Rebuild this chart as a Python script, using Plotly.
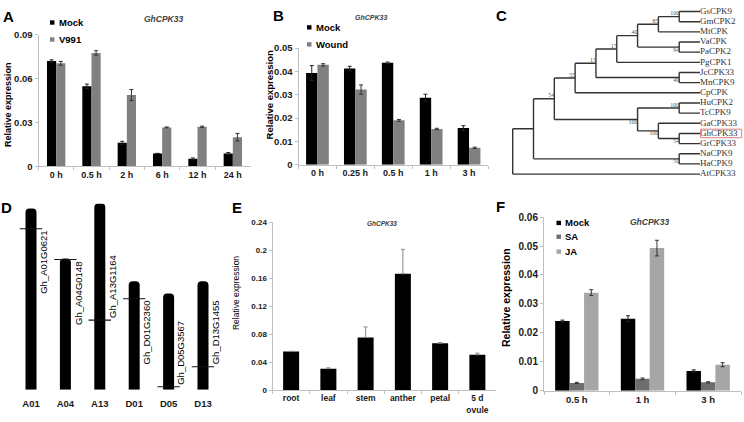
import plotly.graph_objects as go

W, H = 744, 422
def fx(p): return p / W
def fy(p): return 1 - p / H

FONT = "Liberation Sans, Arial, Helvetica, sans-serif"
SERIF = "Liberation Serif, Times New Roman, serif"

# ---------------- data ----------------
# Panel A
a_cats = ["0 h", "0.5 h", "2 h", "6 h", "12 h", "24 h"]
a_mock = [0.072, 0.0547, 0.0161, 0.0088, 0.0051, 0.0088]
a_mock_err = [0.0008, 0.0015, 0.001, 0.0, 0.0006, 0.0006]
a_v991 = [0.0704, 0.0775, 0.0487, 0.0266, 0.027, 0.0199]
a_v991_err = [0.0013, 0.0015, 0.0038, 0.0003, 0.0005, 0.0026]
a_yticks = [0, 0.03, 0.06, 0.09]
a_yticktext = ["0", "0.03", "0.06", "0.09"]

# Panel B
b_cats = ["0 h", "0.25 h", "0.5 h", "1 h", "3 h"]
b_mock = [0.0393, 0.0412, 0.0437, 0.0287, 0.0157]
b_mock_err = [0.0032, 0.001, 0.0003, 0.0015, 0.001]
b_wound = [0.0428, 0.0322, 0.019, 0.0153, 0.0072]
b_wound_err = [0.0005, 0.002, 0.0004, 0.0003, 0.0003]
b_yticks = [0, 0.01, 0.02, 0.03, 0.04, 0.05]
b_yticktext = ["0", "0.01", "0.02", "0.03", "0.04", "0.05"]

# Panel C (topology: [child1, child2, bootstrap])
c_gsgm = ["GsCPK9", "GmCPK2", 100]
c_mt = [c_gsgm, "MtCPK", 85]
c_vapa = ["VaCPK", "PaCPK2", 94]
c_n6 = [c_mt, c_vapa, 40]
c_n5 = [c_n6, "PgCPK1", 17]
c_jcmn = ["JcCPK33", "MnCPK9", 49]
c_n4 = [c_n5, c_jcmn, 13]
c_n3 = [c_n4, "CpCPK", 55]
c_hutc = ["HuCPK2", "TcCPK9", 100]
c_ghgr = ["GhCPK33", "GrCPK33", 54]
c_ga = ["GaCPK33", c_ghgr, 100]
c_n7 = [c_hutc, c_ga, 100]
c_n2 = [c_n3, c_n7, 54]
c_naha = ["NaCPK9", "HaCPK9", 50]
c_n1 = [c_n2, c_naha, None]
tree = [c_n1, "AtCPK33", None]
highlight_leaf = "GhCPK33"

# Panel D
chrom_names = ["A01", "A04", "A13", "D01", "D05", "D13"]
chrom_len = [112, 81, 115, 67, 59.5, 67]
gene_names = ["Gh_A01G0621", "Gh_A04G0148", "Gh_A13G1164",
              "Gh_D01G2360", "Gh_D05G3567", "Gh_D13G1455"]
gene_pos_from_top = [12.6, 0.6, 72, 10.8, 57.6, 52.8]
gene_label_side = ["down", "down", "up", "down", "up", "up"]

# Panel E
e_cats = ["root", "leaf", "stem", "anther", "petal", "5 d<br>ovule"]
e_vals = [0.0553, 0.0308, 0.0755, 0.1665, 0.0672, 0.0508]
e_err = [0.0005, 0.0013, 0.015, 0.035, 0.0012, 0.0022]
e_yticks = [0, 0.04, 0.08, 0.12, 0.16, 0.2, 0.24]
e_yticktext = ["0", "0.04", "0.08", "0.12", "0.16", "0.2", "0.24"]

# Panel F
f_cats = ["0.5 h", "1 h", "3 h"]
f_mock = [0.0241, 0.0249, 0.0068]
f_mock_err = [0.0003, 0.001, 0.0004]
f_sa = [0.0027, 0.0041, 0.0029]
f_sa_err = [0.0002, 0.0003, 0.0002]
f_ja = [0.0339, 0.0493, 0.009]
f_ja_err = [0.001, 0.0027, 0.0007]
f_yticks = [0, 0.01, 0.02, 0.03, 0.04, 0.05, 0.06]
f_yticktext = ["0", "0.01", "0.02", "0.03", "0.04", "0.05", "0.06"]

BLACK = "#000000"
GRAY = "#808080"
DGRAY = "#6e6e6e"
LGRAY = "#a6a6a6"
AXC = "#bfbfbf"

fig = go.Figure()
annotations = []
shapes = []


def add_bars(cats, vals, errs, color, ecolor, w, off, xa, ya, one_sided=False):
    eb = dict(type="data", array=errs, visible=True, thickness=1, width=2, color=ecolor)
    if one_sided:
        eb.update(symmetric=False, arrayminus=[0] * len(errs))
    fig.add_trace(go.Bar(x=cats, y=vals, width=w, offset=off,
                         marker=dict(color=color, line=dict(width=0)),
                         error_y=eb, xaxis=xa, yaxis=ya, showlegend=False,
                         hoverinfo="skip"))


def ann(text, x, y, size, bold=False, italic=False, color="#000000", angle=0,
        xanchor="center", yanchor="middle", family=FONT):
    annotations.append(dict(text=text, x=fx(x), y=fy(y), xref="paper", yref="paper",
                            showarrow=False, textangle=angle, xanchor=xanchor,
                            yanchor=yanchor,
                            font=dict(family=family, size=size, color=color,
                                      weight="bold" if bold else "normal",
                                      style="italic" if italic else "normal")))


def legend_item(label, color, xs, yc, size=9.5):
    s = 4.5
    shapes.append(dict(type="rect", xref="paper", yref="paper",
                       x0=fx(xs), x1=fx(xs + s), y0=fy(yc + s / 2), y1=fy(yc - s / 2),
                       fillcolor=color, line=dict(width=0)))
    ann(label, xs + s + 2, yc, size, bold=True, xanchor="left")


def cat_xaxis(cats, x0, x1, anchor, size):
    return dict(domain=[fx(x0), fx(x1)], type="category", categoryorder="array",
                categoryarray=cats, range=[-0.5, len(cats) - 0.5], showline=True,
                linecolor=AXC, linewidth=1, ticks="outside", tickson="boundaries",
                ticklen=3, tickcolor=AXC, showgrid=False, zeroline=False,
                tickfont=dict(family=FONT, size=size, weight="bold", color="#1a1a1a"),
                anchor=anchor, fixedrange=True)


def val_yaxis(p0, p1, rng, tv, tt, anchor, size):
    return dict(domain=[fy(p0), fy(p1)], range=rng, tickvals=tv, ticktext=tt,
                showline=True, linecolor=AXC, linewidth=1, ticks="outside",
                ticklen=3, tickcolor=AXC, showgrid=False, zeroline=False,
                tickfont=dict(family=FONT, size=size, weight="bold", color="#1a1a1a"),
                anchor=anchor, fixedrange=True)


# ---------------- Panel A ----------------
wA = 0.26
add_bars(a_cats, a_mock, a_mock_err, BLACK, "#222222", wA, -wA, "x", "y")
add_bars(a_cats, a_v991, a_v991_err, GRAY, "#333333", wA, 0, "x", "y")

# ---------------- Panel B ----------------
wB = 0.3
add_bars(b_cats, b_mock, b_mock_err, BLACK, "#222222", wB, -wB, "x2", "y2")
add_bars(b_cats, b_wound, b_wound_err, GRAY, "#333333", wB, 0, "x2", "y2")

# ---------------- Panel C (tree) ----------------
def height(n):
    if isinstance(n, str):
        return 0
    return 1 + max(height(n[0]), height(n[1]))

MAXH = height(tree)
leaves = []
lx, ly = [], []
boot_x, boot_y, boot_t, boot_p = [], [], [], []


def place(n):
    if isinstance(n, str):
        idx = len(leaves)
        leaves.append(n)
        return (MAXH, idx)
    p1 = place(n[0])
    p2 = place(n[1])
    x = MAXH - height(n)
    y = (p1[1] + p2[1]) / 2
    lx.extend([x, x, None, x, p1[0], None, x, p2[0], None])
    ly.extend([p1[1], p2[1], None, p1[1], p1[1], None, p2[1], p2[1], None])
    for child, pos, side in ((n[0], p1, "top left"), (n[1], p2, "bottom left")):
        if not isinstance(child, str) and child[2] is not None:
            boot_x.append(pos[0])
            boot_y.append(pos[1])
            boot_t.append(str(child[2]))
            boot_p.append(side)
    return (x, y)

place(tree)

fig.add_trace(go.Scatter(x=lx, y=ly, mode="lines", line=dict(color="#333333", width=1.4),
                         xaxis="x3", yaxis="y3", showlegend=False, hoverinfo="skip"))
fig.add_trace(go.Scatter(x=[MAXH] * len(leaves), y=list(range(len(leaves))), mode="text",
                         text=leaves, textposition="middle right", cliponaxis=False,
                         textfont=dict(family=SERIF, size=9, color="#333333"),
                         xaxis="x3", yaxis="y3", showlegend=False, hoverinfo="skip"))
fig.add_trace(go.Scatter(x=boot_x, y=boot_y, mode="text", text=boot_t,
                         textposition=boot_p, cliponaxis=False,
                         textfont=dict(family=SERIF, size=6, color="#555555"),
                         xaxis="x3", yaxis="y3", showlegend=False, hoverinfo="skip"))
hi = leaves.index(highlight_leaf)
shapes.append(dict(type="rect", xref="x3", yref="y3", x0=MAXH + 0.03, x1=MAXH + 2.0,
                   y0=hi - 0.42, y1=hi + 0.42, line=dict(color="#e07b7b", width=1)))

# ---------------- Panel D ----------------
fig.add_trace(go.Bar(x=chrom_names, y=chrom_len, width=0.32, offset=-0.16,
                     marker=dict(color=BLACK, line=dict(width=0), cornerradius=4),
                     xaxis="x4", yaxis="y4", showlegend=False, hoverinfo="skip"))
gene_y = [L - p for L, p in zip(chrom_len, gene_pos_from_top)]
fig.add_trace(go.Scatter(x=chrom_names, y=gene_y, mode="markers",
                         marker=dict(symbol="line-ew", size=16,
                                     line=dict(color="#111111", width=1.1)),
                         xaxis="x4", yaxis="y4", showlegend=False, hoverinfo="skip"))
for c, g, yv, side in zip(chrom_names, gene_names, gene_y, gene_label_side):
    annotations.append(dict(text=g, x=c, y=yv, xref="x4", yref="y4", showarrow=False,
                            textangle=-90, xanchor="left", xshift=5,
                            yanchor="top" if side == "down" else "bottom",
                            font=dict(family=FONT, size=9.5, color="#000000")))

# ---------------- Panel E ----------------
wE = 0.43
add_bars(e_cats, e_vals, e_err, BLACK, "#8a8a8a", wE, -wE / 2, "x5", "y5", one_sided=True)

# ---------------- Panel F ----------------
wF = 0.22
add_bars(f_cats, f_mock, f_mock_err, BLACK, "#222222", wF, -1.5 * wF, "x6", "y6")
add_bars(f_cats, f_sa, f_sa_err, DGRAY, "#333333", wF, -0.5 * wF, "x6", "y6")
add_bars(f_cats, f_ja, f_ja_err, LGRAY, "#333333", wF, 0.5 * wF, "x6", "y6")

# ---------------- text ----------------
for letter, x, y in (("A", 8, 11), ("B", 278, 10), ("C", 502, 10),
                     ("D", 6, 207), ("E", 237, 207), ("F", 501, 206)):
    ann(letter, x, y, 15, bold=True)

ann("GhCPK33", 163, 13, 8.5, bold=True, italic=True, color="#404040")
ann("GhCPK33", 371, 12, 7, bold=True, italic=True, color="#404040")
ann("GhCPK33", 382, 224, 6.5, bold=True, italic=True, color="#404040")
ann("GhCPK33", 649, 222.5, 8.5, bold=True, italic=True, color="#404040")

ann("Relative expression", 8, 102, 9, bold=True, angle=-90)
ann("Relative expression", 269, 92, 9.5, bold=True, angle=-90)
ann("Relative expression", 235.5, 296, 8.5, angle=-90)
ann("Relative expression", 506.5, 300, 10.5, bold=True, angle=-90)

legend_item("Mock", BLACK, 50, 17)
legend_item("V991", GRAY, 50, 34.5)
legend_item("Mock", BLACK, 307, 22)
legend_item("Wound", GRAY, 307, 39.5)
legend_item("Mock", BLACK, 556.5, 223.3)
legend_item("SA", DGRAY, 556.5, 237.5)
legend_item("JA", LGRAY, 556.5, 252.8)

# ---------------- layout ----------------
layout = dict(
    width=W, height=H, margin=dict(l=0, r=0, t=0, b=0),
    paper_bgcolor="white", plot_bgcolor="white",
    font=dict(family=FONT, color="#000000"),
    barmode="overlay", showlegend=False,
    annotations=annotations, shapes=shapes,
)
layout["xaxis"] = cat_xaxis(a_cats, 38.5, 250.5, "y", 9)
layout["yaxis"] = val_yaxis(165, 29.5, [0, 0.09], a_yticks, a_yticktext, "x", 9.5)
layout["xaxis2"] = cat_xaxis(b_cats, 298.5, 488, "y2", 9)
layout["yaxis2"] = val_yaxis(163.3, 43.3, [0, 0.05], b_yticks, b_yticktext, "x2", 9.5)
layout["xaxis5"] = cat_xaxis(e_cats, 272.5, 496, "y5", 8.5)
layout["yaxis5"] = val_yaxis(395.5, 222.7, [0, 0.24], e_yticks, e_yticktext, "x5", 8)
layout["xaxis6"] = cat_xaxis(f_cats, 544, 741, "y6", 9.5)
layout["yaxis6"] = val_yaxis(396, 217.3, [0, 0.06], f_yticks, f_yticktext, "x6", 10)

px_per_level = (700 - 512.7) / MAXH
layout["xaxis3"] = dict(domain=[fx(500), fx(744)],
                        range=[(500 - 512.7) / px_per_level, (744 - 512.7) / px_per_level],
                        visible=False, anchor="y3", fixedrange=True)
leaf_step = (173 - 5.7) / (len(leaves) - 1)
layout["yaxis3"] = dict(domain=[fy(185), fy(0)],
                        range=[(185 - 5.7) / leaf_step, -5.7 / leaf_step],
                        visible=False, anchor="x3", fixedrange=True)

layout["xaxis4"] = dict(domain=[fx(13.8), fx(220.2)], type="category",
                        categoryorder="array", categoryarray=chrom_names,
                        range=[-0.5, len(chrom_names) - 0.5], showline=False,
                        showgrid=False, zeroline=False, ticks="outside", ticklen=5,
                        tickcolor="rgba(0,0,0,0)",
                        tickfont=dict(family=FONT, size=9.5, weight="bold", color="#1a1a1a"),
                        anchor="y4", fixedrange=True)
layout["yaxis4"] = dict(domain=[fy(395), fy(203.3)], range=[0, max(chrom_len)],
                        visible=False, anchor="x4", fixedrange=True)

fig.update_layout(**layout)
fig.write_html("out.html", config={"displayModeBar": False},
               post_script="document.body.style.margin='0';document.body.style.overflow='hidden';")
